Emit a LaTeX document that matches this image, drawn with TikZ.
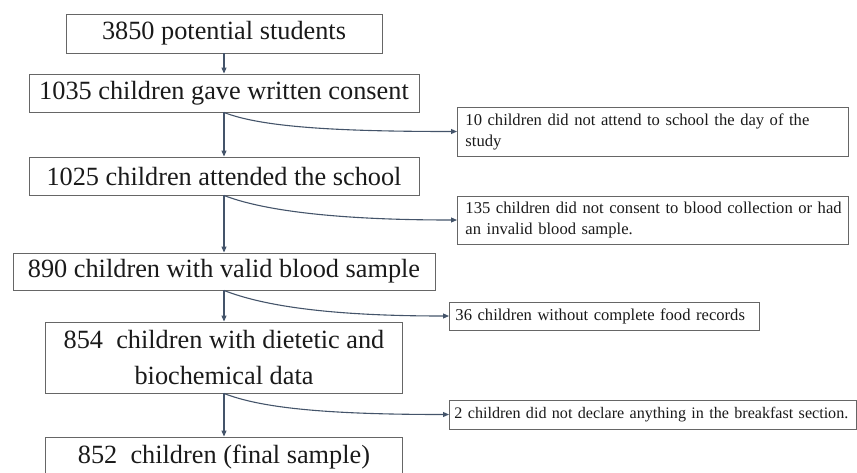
\documentclass[tikz,border=0pt]{standalone}
\usepackage{fontspec}
\setmainfont{Liberation Serif}
\usetikzlibrary{arrows.meta}
\definecolor{linec}{HTML}{44546A}
\definecolor{boxc}{HTML}{666666}
\definecolor{txtc}{HTML}{1A1A1A}
\begin{document}
\begin{tikzpicture}[x=1pt,y=-1pt,
  mainbox/.style={draw=boxc, line width=0.9pt, text=txtc,
    font=\fontsize{26.3}{36}\selectfont, align=center, inner sep=0pt},
  sidebox/.style={draw=boxc, line width=0.9pt, text=txtc,
    font=\fontsize{16.6}{21}\selectfont, align=left, anchor=west,
    inner xsep=8pt, inner ysep=0pt},
  flow/.style={draw=linec, line width=1.1pt, -{Triangle[length=6pt,width=5pt]}}]
\useasboundingbox (0,0) rectangle (857,472);

% main column
\node[mainbox, minimum width=316pt, minimum height=39pt] (b1) at (224,33.5) {3850 potential students};
\node[mainbox, minimum width=390pt, minimum height=38pt] (b2) at (224,93) {1035 children gave written consent};
\node[mainbox, minimum width=390pt, minimum height=38pt] (b3) at (224,176) {1025 children attended the school};
\node[mainbox, minimum width=422pt, minimum height=37pt] (b4) at (224,271.5) {890 children with valid blood sample};
\node[mainbox, minimum width=357pt, minimum height=71pt] (b5) at (224,357.5) {854\ \ children with dietetic and\\biochemical data};
\node[mainbox, minimum width=357pt, minimum height=40pt] (b6) at (224,457) {852\ \ children (final sample)};

% side boxes
\node[sidebox, text width=375pt, minimum height=49pt] (r1) at (457,131.5)
  {\mbox{10 children did not attend to school the day of the}\\study};
\node[sidebox, text width=375pt, minimum height=48pt] (r2) at (457,220)
  {\mbox{135 children did not consent to blood collection or had}\\an invalid blood sample.};
\node[sidebox, inner xsep=6pt, text width=298pt, minimum height=28pt] (r3) at (449,316)
  {36 children without complete food records};
\node[sidebox, inner xsep=5pt, text width=397pt, minimum height=29pt,
  font=\fontsize{16.1}{21}\selectfont] (r4) at (449,414.5)
  {\mbox{2 children did not declare anything in the breakfast section.}};

% vertical connectors
\draw[flow] (b1.south) -- (b2.north);
\draw[flow] (b2.south) -- (b3.north);
\draw[flow] (b3.south) -- (b4.north);
\draw[flow] (b4.south) -- (b5.north);
\draw[flow] (b5.south) -- (b6.north);

% branch connectors
\draw[flow] (b2.south) .. controls +(36,14) and +(-127,0) .. (r1.west);
\draw[flow] (b3.south) .. controls +(36,14) and +(-127,0) .. (r2.west);
\draw[flow] (b4.south) .. controls +(36,14) and +(-127,0) .. (r3.west);
\draw[flow] (b5.south) .. controls +(36,14) and +(-127,0) .. (r4.west);
\end{tikzpicture}
\end{document}
